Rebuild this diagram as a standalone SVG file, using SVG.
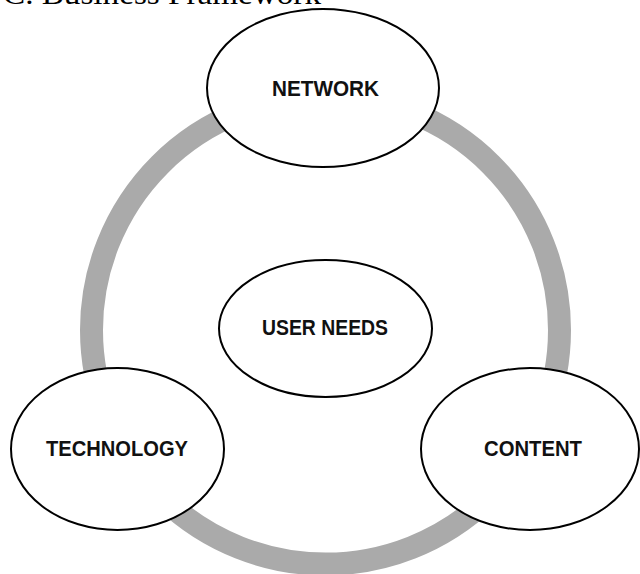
<svg xmlns="http://www.w3.org/2000/svg" width="640" height="574" viewBox="0 0 640 574">
  <style>
    .node { fill: #ffffff; stroke: #000000; stroke-width: 2; }
    .label { font-family: "Liberation Sans", Arial, sans-serif; font-weight: bold; font-size: 22px; fill: #111111; text-anchor: middle; }
    .ring { fill: none; stroke: #aaaaaa; stroke-width: 23; }
    .heading { font-family: "Liberation Serif", "Times New Roman", serif; font-size: 30px; fill: #000000; }
  </style>
  <rect x="0" y="0" width="640" height="574" fill="#ffffff"/>
  <text class="heading" x="3" y="4" textLength="318" lengthAdjust="spacingAndGlyphs">C. Business Framework</text>
  <g id="connectors">
    <circle class="ring" cx="325.5" cy="330" r="234"/>
  </g>
  <g id="network">
    <ellipse class="node" cx="323" cy="88" rx="116" ry="79"/>
    <text class="label" x="325.5" y="96" textLength="107" lengthAdjust="spacingAndGlyphs">NETWORK</text>
  </g>
  <g id="user-needs">
    <ellipse class="node" cx="325.5" cy="328.5" rx="106.5" ry="68.5"/>
    <text class="label" x="325" y="335" textLength="126" lengthAdjust="spacingAndGlyphs">USER NEEDS</text>
  </g>
  <g id="technology">
    <ellipse class="node" cx="117.5" cy="449" rx="106.5" ry="81"/>
    <text class="label" x="117" y="456" textLength="142" lengthAdjust="spacingAndGlyphs">TECHNOLOGY</text>
  </g>
  <g id="content">
    <ellipse class="node" cx="530" cy="449" rx="109" ry="81"/>
    <text class="label" x="533" y="456" textLength="98" lengthAdjust="spacingAndGlyphs">CONTENT</text>
  </g>
</svg>
